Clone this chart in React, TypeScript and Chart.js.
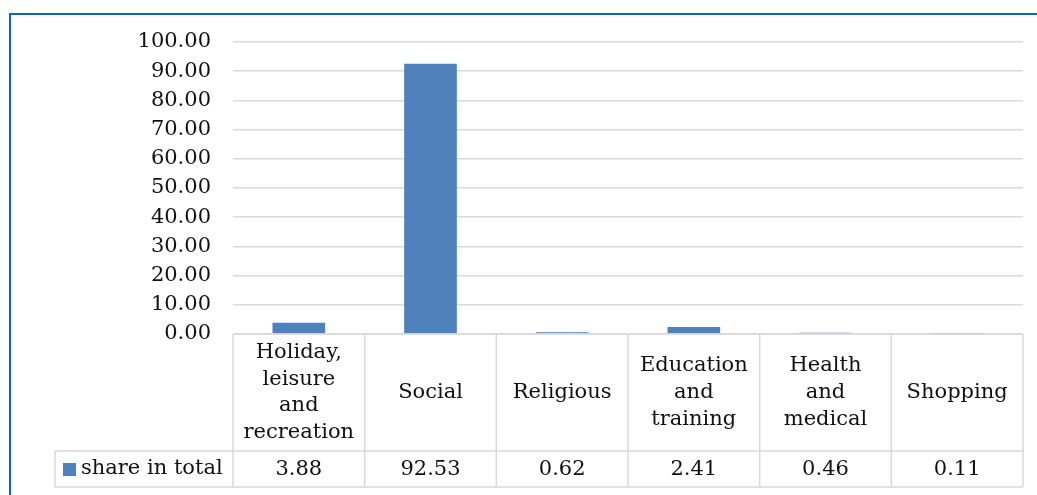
import React, { useEffect, useRef } from "react";
import Chart from "chart.js/auto";

const categories: string[][] = [
  ["Holiday,", "leisure", "and", "recreation"],
  ["Social"],
  ["Religious"],
  ["Education", "and", "training"],
  ["Health", "and", "medical"],
  ["Shopping"],
];
const shareInTotal = [3.88, 92.53, 0.62, 2.41, 0.46, 0.11];
const seriesName = "share in total";
const yTicks = [0, 10, 20, 30, 40, 50, 60, 70, 80, 90, 100];

const FONT = "'DejaVu Serif', Georgia, serif";
const BAR = "#4F81BD";
const LINE = "#d9d9d9";

const HEADER_H = 117;
const VALUE_H = 36;
const TABLE_LEFT = 55;

// draws the Excel-style data table under the plot, lined up with the x scale
const dataTable = {
  id: "dataTable",
  afterDraw(chart: Chart) {
    const { ctx, chartArea } = chart;
    const x = chart.scales.x;
    const top = chartArea.bottom;
    const mid = top + HEADER_H;
    const bottom = mid + VALUE_H;
    const n = categories.length;
    const step = (chartArea.right - chartArea.left) / n;

    ctx.save();
    ctx.strokeStyle = LINE;
    ctx.lineWidth = 1.5;
    ctx.beginPath();
    ctx.moveTo(chartArea.left, top);
    ctx.lineTo(chartArea.right, top);
    ctx.moveTo(TABLE_LEFT, mid);
    ctx.lineTo(chartArea.right, mid);
    ctx.moveTo(TABLE_LEFT, bottom);
    ctx.lineTo(chartArea.right, bottom);
    ctx.moveTo(TABLE_LEFT, mid);
    ctx.lineTo(TABLE_LEFT, bottom);
    for (let i = 0; i <= n; i++) {
      const px = i < n ? x.getPixelForValue(i) - step / 2 : x.getPixelForValue(n - 1) + step / 2;
      ctx.moveTo(px, top);
      ctx.lineTo(px, bottom);
    }
    ctx.stroke();

    ctx.fillStyle = "#111";
    ctx.font = `21px ${FONT}`;
    ctx.textAlign = "center";
    ctx.textBaseline = "middle";
    const lh = 26.7;
    categories.forEach((lines, i) => {
      const cx = x.getPixelForValue(i);
      const cy = top + HEADER_H / 2 - ((lines.length - 1) * lh) / 2;
      lines.forEach((t, j) => ctx.fillText(t, cx, cy + j * lh));
      ctx.fillText(shareInTotal[i].toFixed(2), cx, mid + VALUE_H / 2 + 1);
    });

    ctx.fillStyle = BAR;
    ctx.fillRect(63, mid + VALUE_H / 2 - 6, 13, 13);
    ctx.fillStyle = "#111";
    ctx.textAlign = "left";
    ctx.fillText(seriesName, 81, mid + VALUE_H / 2);
    ctx.restore();
  },
};

export default function App() {
  const canvasRef = useRef<HTMLCanvasElement | null>(null);

  useEffect(() => {
    if (!canvasRef.current) return;
    const chart = new Chart(canvasRef.current, {
      type: "bar",
      data: {
        labels: categories,
        datasets: [
          {
            label: seriesName,
            data: shareInTotal,
            backgroundColor: BAR,
            barPercentage: 0.4,
            categoryPercentage: 1,
          },
        ],
      },
      options: {
        animation: false,
        responsive: false,
        maintainAspectRatio: false,
        layout: { padding: { top: 42, right: 14, bottom: 161, left: 0 } },
        plugins: {
          legend: { display: false },
          tooltip: { enabled: false },
        },
        scales: {
          x: {
            display: false,
          },
          y: {
            min: 0,
            max: 100,
            afterBuildTicks: (axis: any) => {
              axis.ticks = yTicks.map((v) => ({ value: v }));
            },
            afterFit: (axis: any) => {
              axis.width = 233;
            },
            border: { display: false },
            grid: { color: LINE, lineWidth: 1.5, drawTicks: false },
            ticks: {
              padding: 22,
              color: "#111",
              font: { family: FONT, size: 21 },
              callback: (v: any) => Number(v).toFixed(2),
            },
          },
        },
      },
      plugins: [dataTable],
    });
    return () => chart.destroy();
  }, []);

  return (
    <div
      style={{
        position: "absolute",
        left: 0,
        top: 0,
        width: 1037,
        height: 495,
        overflow: "hidden",
        background: "#fff",
      }}
    >
      <div
        style={{
          position: "absolute",
          left: 9,
          top: 13,
          width: 1200,
          height: 600,
          borderTop: "2px solid #0B68B8",
          borderLeft: "2px solid #0B68B8",
        }}
      />
      <canvas ref={canvasRef} width={1037} height={495} style={{ position: "absolute", left: 0, top: 0 }} />
    </div>
  );
}
